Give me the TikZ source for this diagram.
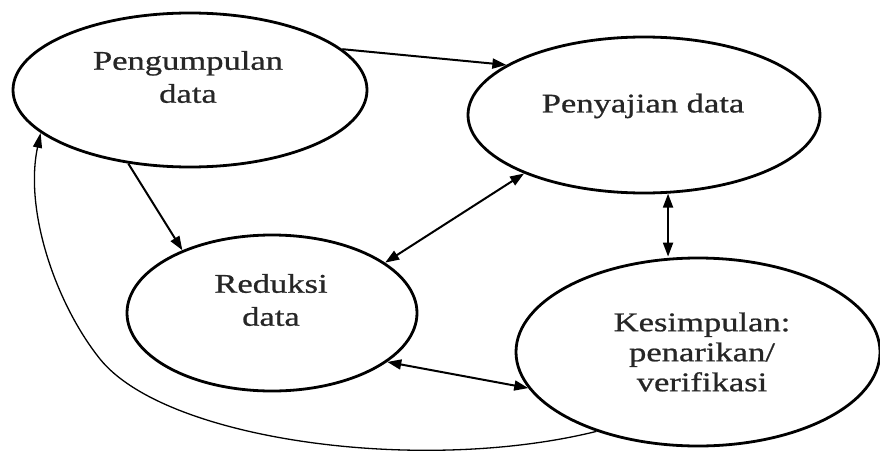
\documentclass[tikz,border=0pt]{standalone}
\usepackage{fontspec}
\setmainfont{Liberation Serif}[FakeStretch=1.28,FakeBold=0.8]
\usetikzlibrary{shapes.geometric,arrows.meta}
\begin{document}
\begin{tikzpicture}[x=1pt,y=-1pt,
  oval/.style={draw=black, ellipse, line width=2.8pt, inner sep=0pt, fill=none},
  lbl/.style={font=\fontsize{27}{33}\selectfont, align=center, inner sep=0pt, text=black!85},
  lblk/.style={font=\fontsize{27}{30}\selectfont, align=center, inner sep=0pt, text=black!85},
  conn/.style={line width=2pt, -{Triangle[length=14pt,width=10pt]}},
  biconn/.style={line width=2pt, {Triangle[length=14pt,width=10pt]}-{Triangle[length=14pt,width=10pt]}},
  loopconn/.style={line width=1.3pt, -{Triangle[length=15pt,width=9pt]}}]
\useasboundingbox (0,0) rectangle (880,452);
\clip (0,0) rectangle (880,452);
\fill[white] (0,0) rectangle (880,452);

\node[oval, minimum width=354pt, minimum height=154pt] (A) at (190,90) {};
\node[oval, minimum width=352pt, minimum height=156pt] (B) at (644,115) {};
\node[oval, minimum width=290pt, minimum height=156pt] (C) at (272,313) {};
\node[oval, minimum width=364pt, minimum height=188pt] (D) at (698,352) {};

\node[lbl] (tA) at (188,77) {Pengumpulan\\data};
\node[lbl] (tB) at (643,106) {Penyajian data};
\node[lbl] (tC) at (271,300) {Reduksi\\data};
\node[lblk] (tD) at (702,352) {Kesimpulan:\\penarikan/\\verifikasi};

\draw[conn] (A.15) -- (B.160);
\draw[conn] (A.230) -- (C.145);
\draw[biconn] (B.206) -- (C.24);
\draw[biconn] (B.287) -- (B.287 |- D.north);
\draw[biconn] (C.337) -- (D.192);

\coordinate (mid) at (100,359);
\draw[loopconn] (D.218) .. controls (420,475) and (165,440) .. (mid)
  .. controls (56,304) and (24,211) .. (A.196);
\end{tikzpicture}
\end{document}
